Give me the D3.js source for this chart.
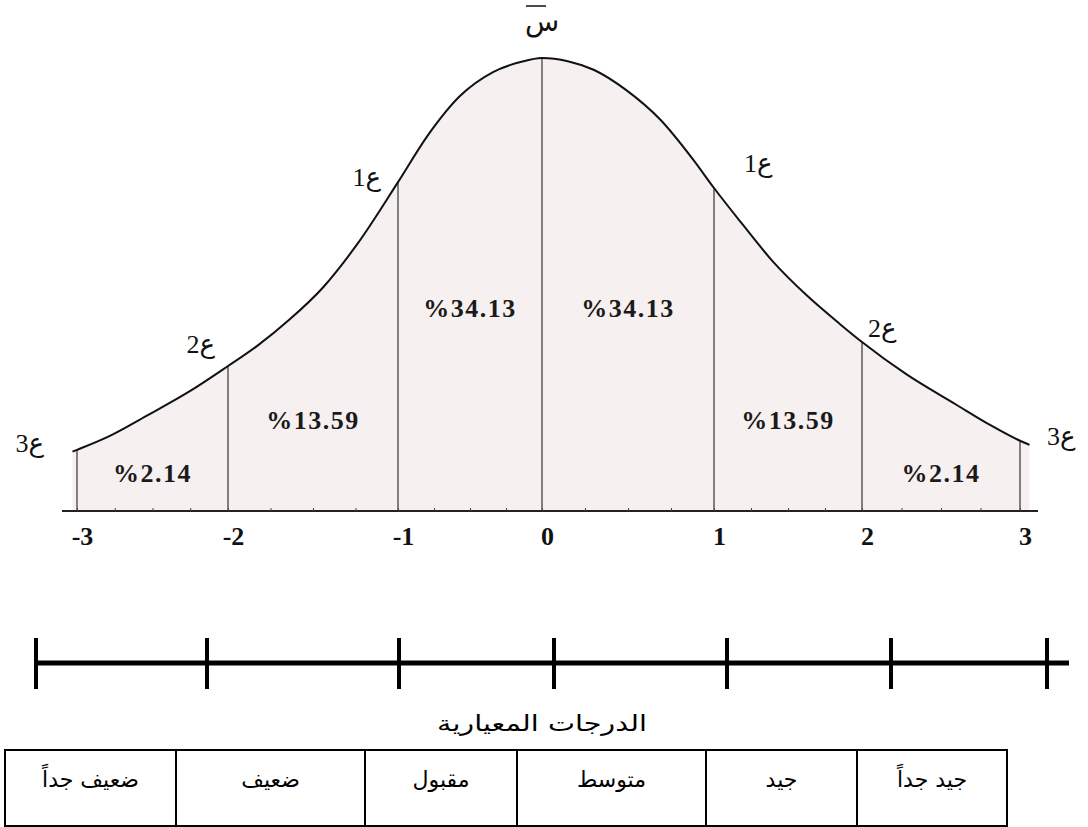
<!DOCTYPE html>
<html>
<head>
<meta charset="utf-8">
<script src="https://cdn.jsdelivr.net/npm/d3@7"></script>
<style>
  body { margin: 0; background: #fff; }
  svg { display: block; }
</style>
</head>
<body>
<svg id="chart" width="1088" height="827"></svg>
<script>
// values
const sigmaTicks = [-3, -2, -1, 0, 1, 2, 3];
const curveX = [-3.03, -3, -2.8, -2.54, -2.25, -2, -1.83, -1.64, -1.44, -1.24, -1,
  -0.8, -0.57, -0.34, -0.15, 0, 0.15, 0.3, 0.49, 0.69, 0.88, 1, 1.18, 1.4, 1.63, 1.85, 2,
  2.28, 2.6, 2.81, 3, 3.06];
const curveY = [13.1, 13.5, 16.3, 21.0, 26.5, 32.0, 36.4, 42.2, 49.4, 58.9, 72.6,
  82.6, 91.6, 96.9, 99.1, 100, 99.3, 97.4, 92.9, 86.3, 77.5, 71.3, 63.8, 55.0, 47.5, 41.3, 37.3,
  30.2, 23.4, 19.0, 15.5, 14.6];
const areaLabels = ['%2.14', '%13.59', '%34.13', '%34.13', '%13.59', '%2.14'];
const sigmaLabels = ['3ع', '2ع', '1ع', null, '1ع', '2ع', '3ع'];
const meanLabel = 'س';
const scaleTitle = 'الدرجات المعيارية';
const gradeLabels = ['ضعيف جداً', 'ضعيف', 'مقبول', 'متوسط', 'جيد', 'جيد جداً'];

const svg = d3.select('#chart');

const x = d3.scaleLinear()
  .domain(sigmaTicks)
  .range([77, 228, 398, 542, 714, 862, 1020]);
const y = d3.scaleLinear().domain([0, 100]).range([511, 58]);

const points = curveX.map((d, i) => ({ x: d, y: curveY[i] }));
const heightAt = s => points.find(p => p.x === s).y;

// shaded area under the curve
svg.append('path')
  .datum(points)
  .attr('fill', '#f6f0f0')
  .attr('d', d3.area()
    .curve(d3.curveMonotoneX)
    .x(d => x(d.x))
    .y0(y(0))
    .y1(d => y(d.y)));

// vertical lines at each sigma
svg.append('g')
  .attr('stroke', '#333')
  .attr('stroke-width', 1.2)
  .selectAll('line')
  .data(sigmaTicks)
  .join('line')
  .attr('x1', d => x(d))
  .attr('x2', d => x(d))
  .attr('y1', y(0))
  .attr('y2', d => y(heightAt(d)));

// the curve
svg.append('path')
  .datum(points)
  .attr('fill', 'none')
  .attr('stroke', '#111')
  .attr('stroke-width', 2)
  .attr('d', d3.line()
    .curve(d3.curveMonotoneX)
    .x(d => x(d.x))
    .y(d => y(d.y)));

// baseline
svg.append('line')
  .attr('x1', x(-3) - 15)
  .attr('x2', x(3) + 18)
  .attr('y1', y(0))
  .attr('y2', y(0))
  .attr('stroke', '#222')
  .attr('stroke-width', 2);

// small marks along the baseline
svg.append('g')
  .attr('transform', `translate(0,${y(0)})`)
  .call(d3.axisBottom(x).tickValues(d3.range(-3, 3.01, 0.25)).tickSize(-3).tickFormat(''))
  .call(g => g.select('.domain').remove())
  .selectAll('line').attr('stroke', '#444');

// tick labels
svg.append('g')
  .attr('transform', `translate(0,${y(0)})`)
  .call(d3.axisBottom(x).tickValues(sigmaTicks).tickSize(0).tickPadding(16)
    .tickFormat(d => String(d)))
  .call(g => g.select('.domain').remove())
  .selectAll('text')
  .attr('dx', 5)
  .attr('fill', '#111')
  .attr('font-family', '"Liberation Serif", "Times New Roman", serif')
  .attr('font-weight', 'bold')
  .attr('font-size', 26);

// percentage labels in each band (placed symmetrically)
const bandFloor = i => {
  const a = sigmaTicks[i], b = sigmaTicks[i + 1];
  return Math.min(heightAt(a), heightAt(b), heightAt(-a), heightAt(-b));
};
svg.append('g')
  .selectAll('text')
  .data(areaLabels)
  .join('text')
  .attr('x', (d, i) => (x(sigmaTicks[i]) + x(sigmaTicks[i + 1])) / 2)
  .attr('y', (d, i) => y(0.63 * bandFloor(i)))
  .attr('dy', '0.35em')
  .attr('text-anchor', 'middle')
  .attr('font-family', '"Liberation Serif", "Times New Roman", serif')
  .attr('font-weight', 'bold')
  .attr('font-size', 26)
  .attr('letter-spacing', 1.5)
  .attr('fill', '#1a1a1a')
  .text(d => d);

// sigma labels beside the curve (digit kept on the left)
const nudge = [[-33, -7], [-13, -22], [-17, -5], null, [30, -25], [6, -14], [27, -5]];
svg.append('g')
  .selectAll('text')
  .data(sigmaTicks.filter((d, i) => sigmaLabels[i]))
  .join('text')
  .attr('x', d => x(d) + nudge[sigmaTicks.indexOf(d)][0])
  .attr('y', d => y(heightAt(d)) + nudge[sigmaTicks.indexOf(d)][1])
  .attr('dy', '0.35em')
  .attr('text-anchor', d => (d < 0 ? 'end' : 'start'))
  .attr('direction', 'ltr')
  .style('unicode-bidi', 'bidi-override')
  .attr('font-family', '"Liberation Serif", "DejaVu Sans", serif')
  .attr('font-size', 26)
  .attr('fill', '#111')
  .text(d => '\u202D' + sigmaLabels[sigmaTicks.indexOf(d)] + '\u202C');

// mean label with bar
const meanG = svg.append('g').attr('transform', `translate(${x(0)},${y(100) - 37})`);
meanG.append('text')
  .attr('text-anchor', 'middle')
  .attr('dy', '0.35em')
  .attr('font-family', '"DejaVu Sans", sans-serif')
  .attr('font-size', 28)
  .attr('fill', '#111')
  .text(meanLabel);
meanG.append('line')
  .attr('x1', -16).attr('x2', 4)
  .attr('y1', -15).attr('y2', -15)
  .attr('stroke', '#111')
  .attr('stroke-width', 1.5);

// lower scale bar
const bar = d3.scaleLinear()
  .domain(sigmaTicks)
  .range([36, 207, 399, 554, 727, 891, 1047]);
const barY = 663;
svg.append('line')
  .attr('x1', bar(-3)).attr('x2', bar(3) + 22)
  .attr('y1', barY).attr('y2', barY)
  .attr('stroke', '#000')
  .attr('stroke-width', 5);
svg.append('g')
  .attr('stroke', '#000')
  .attr('stroke-width', 4)
  .selectAll('line')
  .data(sigmaTicks)
  .join('line')
  .attr('x1', d => bar(d)).attr('x2', d => bar(d))
  .attr('y1', barY - 25).attr('y2', barY + 26);

svg.append('text')
  .attr('x', 542)
  .attr('y', 723)
  .attr('dy', '0.35em')
  .attr('text-anchor', 'middle')
  .attr('direction', 'rtl')
  .attr('font-family', '"DejaVu Sans", sans-serif')
  .attr('font-size', 22)
  .attr('textLength', 210)
  .attr('lengthAdjust', 'spacingAndGlyphs')
  .attr('fill', '#000')
  .text(scaleTitle);

// grades table
const col = d3.scaleLinear()
  .domain(d3.range(gradeLabels.length + 1))
  .range([5, 176, 365, 517, 706, 857, 1007]);
const tableTop = 750, tableBottom = 826;
const cells = svg.append('g')
  .selectAll('g')
  .data(gradeLabels)
  .join('g');
cells.append('rect')
  .attr('x', (d, i) => col(i))
  .attr('y', tableTop)
  .attr('width', (d, i) => col(i + 1) - col(i))
  .attr('height', tableBottom - tableTop)
  .attr('fill', 'none')
  .attr('stroke', '#000')
  .attr('stroke-width', 2);
cells.append('text')
  .attr('x', (d, i) => (col(i) + col(i + 1)) / 2)
  .attr('y', 779)
  .attr('dy', '0.35em')
  .attr('text-anchor', 'middle')
  .attr('direction', 'rtl')
  .attr('font-family', '"DejaVu Sans", sans-serif')
  .attr('font-size', 22)
  .attr('fill', '#000')
  .text(d => d);
</script>
</body>
</html>
